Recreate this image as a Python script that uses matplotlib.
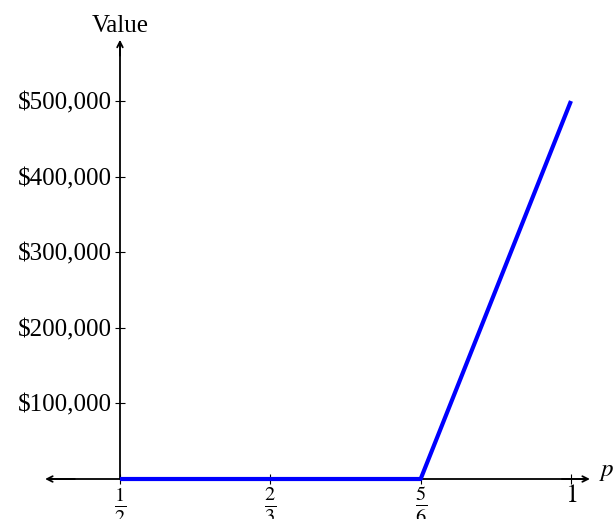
import matplotlib.pyplot as plt

plt.rcParams['font.family'] = ['Liberation Serif', 'DejaVu Serif']
plt.rcParams['mathtext.fontset'] = 'stix'

# data
p_vals = [1/2, 5/6, 1]
values = [0, 0, 500000]
x_ticks = [1/2, 2/3, 5/6, 1]
x_labels = [r'$\frac{1}{2}$', r'$\frac{2}{3}$', r'$\frac{5}{6}$', r'$1$']
y_ticks = [100000, 200000, 300000, 400000, 500000]
y_labels = [r'\$100,000', r'\$200,000', r'\$300,000', r'\$400,000', r'\$500,000']

fig = plt.figure(figsize=(6.13, 5.19), dpi=100)
ax = fig.add_axes([0, 0, 1, 1])
ax.set_xlim(0.367, 1.0466)
ax.set_ylim(-52900, 633600)

ax.plot(p_vals, values, color='#0000ff', lw=3, solid_capstyle='butt', zorder=3)

# axes with arrows
for s in ['top', 'right']:
    ax.spines[s].set_visible(False)
ax.spines['left'].set_position(('data', 0.5))
ax.spines['bottom'].set_position(('data', 0))
ax.spines['left'].set_bounds(0, 575000)
ax.spines['bottom'].set_bounds(0.42, 1.018)
ax.spines['left'].set_linewidth(1.3)
ax.spines['bottom'].set_linewidth(1.3)
ax.annotate('', xy=(0.5, 581000), xytext=(0.5, 560000),
            arrowprops=dict(arrowstyle='->', lw=1.3, color='black', shrinkA=0, shrinkB=0))
ax.annotate('', xy=(1.021, 0), xytext=(0.99, 0),
            arrowprops=dict(arrowstyle='->', lw=1.3, color='black', shrinkA=0, shrinkB=0))
ax.annotate('', xy=(0.417, 0), xytext=(0.45, 0),
            arrowprops=dict(arrowstyle='->', lw=1.3, color='black', shrinkA=0, shrinkB=0))

ax.set_xticks(x_ticks)
ax.set_xticklabels(x_labels, fontsize=21)
ax.set_yticks(y_ticks)
ax.set_yticklabels(y_labels, fontsize=18)
ax.tick_params(direction='inout', length=7, width=0.8, pad=2)
ax.tick_params(axis='x', pad=1)
ax.get_xticklabels()[-1].set_fontsize(19)

ax.text(0.5, 599000, 'Value', ha='center', va='center', fontsize=18)
ax.text(1.031, 9000, r'$p$', ha='left', va='center', fontsize=18)

fig.savefig('out.png', dpi=100)
